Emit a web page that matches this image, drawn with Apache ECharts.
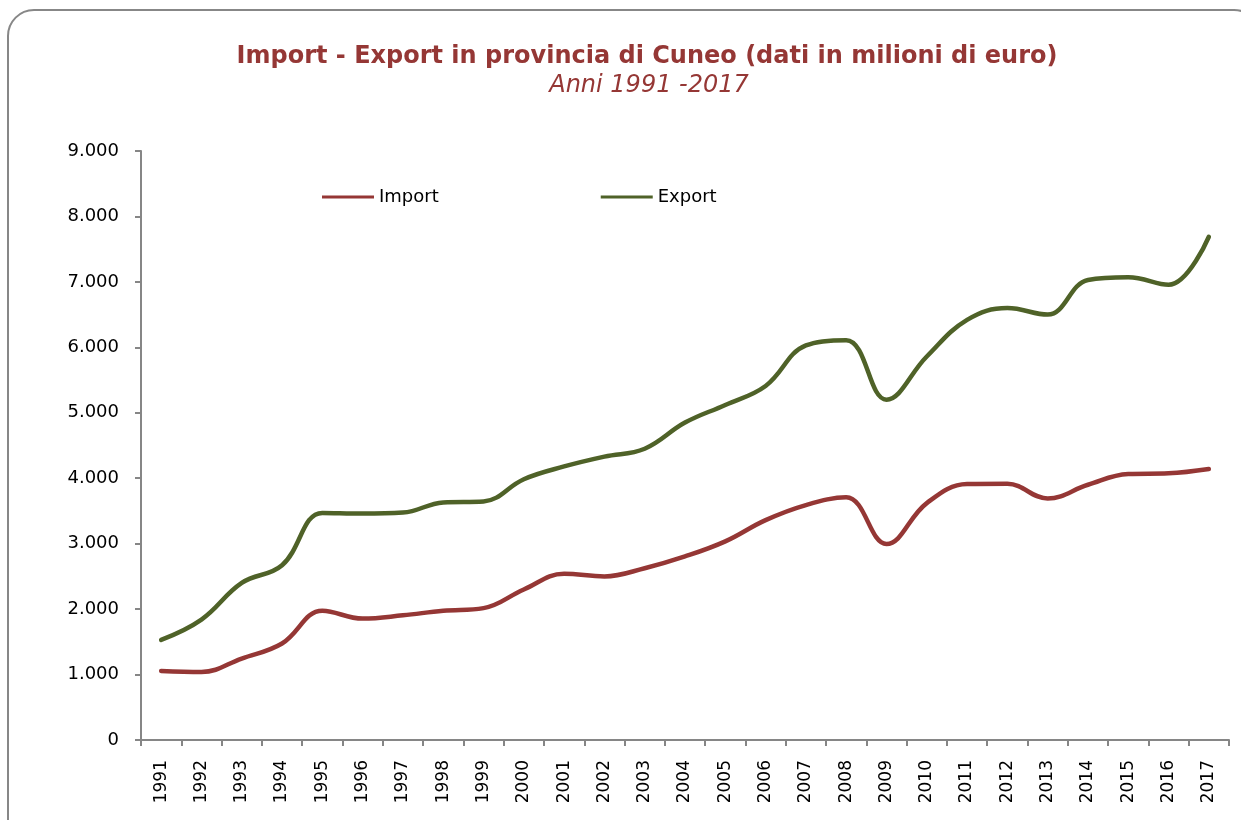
<!DOCTYPE html>
<html>
<head>
<meta charset="utf-8">
<script src="https://cdn.jsdelivr.net/npm/echarts@6/dist/echarts.min.js"></script>
<style>
    html, body { margin: 0; padding: 0; background: #fff; }
    #chart { width: 1241px; height: 820px; }
</style>
</head>
<body>
<div id="chart"></div>
<script>
// anni
const years = ['1991', '1992', '1993', '1994', '1995', '1996', '1997', '1998', '1999', '2000',
    '2001', '2002', '2003', '2004', '2005', '2006', '2007', '2008', '2009', '2010',
    '2011', '2012', '2013', '2014', '2015', '2016', '2017'];

// valori in milioni di euro
const importValues = [1055, 1040, 1245, 1475, 1975, 1855, 1905, 1975, 2015, 2300,
    2540, 2500, 2625, 2805, 3035, 3360, 3590, 3710, 2995, 3620,
    3910, 3915, 3690, 3900, 4065, 4075, 4140];
const exportValues = [1530, 1840, 2400, 2670, 3470, 3460, 3475, 3630, 3645, 3985,
    4180, 4330, 4450, 4850, 5120, 5410, 6030, 6110, 5200, 5860,
    6420, 6600, 6500, 7030, 7070, 6955, 7690];

const yTicks = [0, 1000, 2000, 3000, 4000, 5000, 6000, 7000, 8000, 9000];

const axisGray = '#868686';
const font = 'DejaVu Sans, Verdana, sans-serif';

// formato italiano 9.000
const formatThousands = (v) => String(v).replace(/\B(?=(\d{3})+(?!\d))/g, '.');

const chart = echarts.init(document.getElementById('chart'));

const option = {
    backgroundColor: '#fff',
    animation: false,
    graphic: [
        {
            type: 'rect',
            z: -1,
            shape: { x: 8, y: 10, width: 1252, height: 860, r: 26 },
            style: { fill: 'none', stroke: '#878787', lineWidth: 2 }
        },
        {
            type: 'text',
            style: {
                x: 647, y: 57,
                text: 'Import - Export in provincia di Cuneo (dati in milioni di euro)',
                textAlign: 'center', textVerticalAlign: 'middle',
                fill: '#953735', font: 'bold 24px ' + font
            }
        },
        {
            type: 'text',
            style: {
                x: 649, y: 86,
                text: 'Anni 1991 -2017',
                textAlign: 'center', textVerticalAlign: 'middle',
                fill: '#953735', font: 'italic 24px ' + font
            }
        }
    ],
    legend: {
        left: 317,
        top: 183,
        icon: 'rect',
        itemWidth: 52,
        itemHeight: 3,
        itemGap: 162,
        textStyle: { fontFamily: font, fontSize: 18, color: '#000' },
        data: ['Import', 'Export']
    },
    grid: {
        left: 141,
        right: 12,
        top: 151,
        bottom: 80,
        containLabel: false
    },
    xAxis: {
        type: 'category',
        data: years,
        boundaryGap: true,
        axisLine: { lineStyle: { color: axisGray, width: 2 } },
        axisTick: { show: true, length: 6, lineStyle: { color: axisGray, width: 2 } },
        axisLabel: {
            rotate: 90,
            interval: 0,
            margin: 20,
            fontFamily: font,
            fontSize: 17,
            color: '#000'
        },
        splitLine: { show: false }
    },
    yAxis: {
        type: 'value',
        min: yTicks[0],
        max: yTicks[yTicks.length - 1],
        interval: 1000,
        axisLine: { show: true, lineStyle: { color: axisGray, width: 2 } },
        axisTick: { show: true, length: 6, lineStyle: { color: axisGray, width: 2 } },
        axisLabel: {
            margin: 22,
            fontFamily: font,
            fontSize: 18,
            color: '#000',
            formatter: formatThousands
        },
        splitLine: { show: false }
    },
    series: [
        {
            name: 'Import',
            type: 'line',
            data: importValues,
            smooth: 0.4,
            symbol: 'none',
            lineStyle: { color: '#953735', width: 4.5, cap: 'round' },
            itemStyle: { color: '#953735' }
        },
        {
            name: 'Export',
            type: 'line',
            data: exportValues,
            smooth: 0.4,
            symbol: 'none',
            lineStyle: { color: '#4F6228', width: 4.5, cap: 'round' },
            itemStyle: { color: '#4F6228' }
        }
    ]
};

chart.setOption(option);
</script>
</body>
</html>
